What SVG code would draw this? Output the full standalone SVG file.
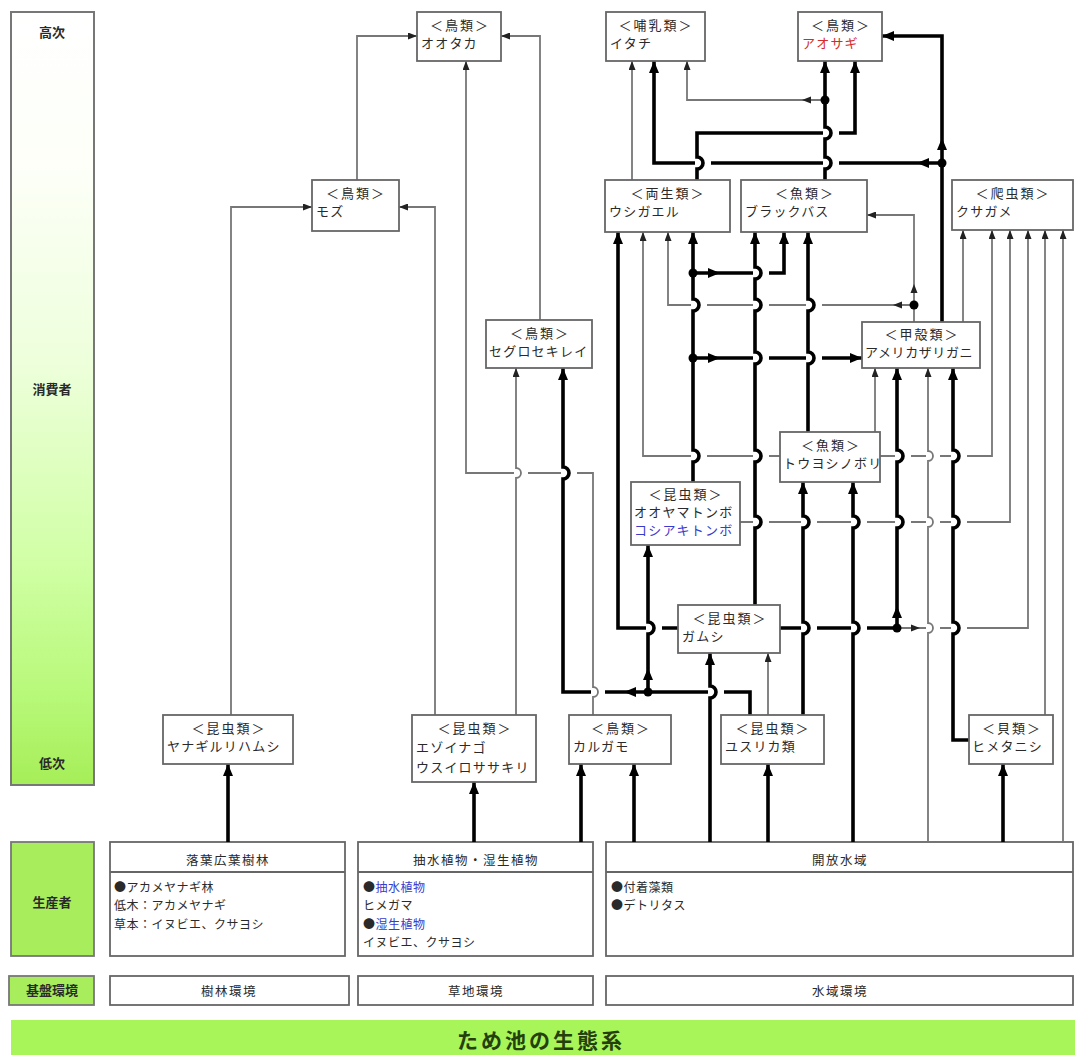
<svg xmlns="http://www.w3.org/2000/svg" xmlns:xlink="http://www.w3.org/1999/xlink" width="1075" height="1055" viewBox="0 0 1075 1055">
<style>
text{font-family:'Noto Sans CJK JP','Noto Sans',sans-serif;fill:#2a2a2a}
.box{fill:#fff;stroke:#666;stroke-width:1.8}
.gbox{fill:#a8ee5c;stroke:#777;stroke-width:1.8}
.cat{font-size:13px;text-anchor:middle;letter-spacing:2px}
.nm{font-size:13px;letter-spacing:1.2px}
.lv{font-size:13px;font-weight:bold;text-anchor:middle}
.ph{font-size:12.5px;text-anchor:middle;letter-spacing:1.5px}
.pb{font-size:12px;letter-spacing:0.5px}
.lnk{fill:#3a3acc}
.t{fill:none;stroke:#777;stroke-width:1.8;marker-end:url(#mt)}
.T{fill:none;stroke:#000;stroke-width:3.6;marker-end:url(#mT)}
.na{marker-end:none}
.dot{fill:#000}
.hT{fill:#000}
.ht{fill:#222}
</style>
<defs>
<linearGradient id="g" x1="0" y1="0" x2="0" y2="1">
<stop offset="0" stop-color="#ffffff"/>
<stop offset="0.2" stop-color="#fdfff8"/>
<stop offset="0.45" stop-color="#eeffdc"/>
<stop offset="0.7" stop-color="#d2ffa8"/>
<stop offset="0.88" stop-color="#b8f97a"/>
<stop offset="1" stop-color="#a6ee58"/>
</linearGradient>
<marker id="mT" viewBox="0 0 12 10" refX="12" refY="5" markerWidth="12" markerHeight="10" markerUnits="userSpaceOnUse" orient="auto"><path d="M0,0 L12,5 L0,10 Z" fill="#000"/></marker>
<marker id="mt" viewBox="0 0 9 7" refX="9" refY="3.5" markerWidth="9" markerHeight="7" markerUnits="userSpaceOnUse" orient="auto"><path d="M0,0 L9,3.5 L0,7 Z" fill="#222"/></marker>
<path id="aT" d="M0,0 L-5,12 L5,12 Z"/>
<path id="at" d="M0,0 L-3.5,9 L3.5,9 Z"/>
</defs>
<rect width="1075" height="1055" fill="#fff"/>

<g id="levels">
<rect x="11" y="12" width="83" height="773" fill="url(#g)" stroke="#777" stroke-width="2"/>
<text class="lv" x="52" y="37">高次</text>
<text class="lv" x="52" y="394">消費者</text>
<text class="lv" x="52" y="768">低次</text>
<rect class="gbox" x="11" y="842" width="83" height="114"/>
<text class="lv" x="52" y="907">生産者</text>
<rect class="gbox" x="9" y="976" width="85" height="29"/>
<text class="lv" x="52" y="995">基盤環境</text>
</g>

<g id="banner">
<rect x="11" y="1020" width="1064" height="35" fill="#a8f55a"/>
<text x="541" y="1048" font-size="21" font-weight="bold" text-anchor="middle" letter-spacing="3" style="fill:#24400c">ため池の生態系</text>
</g>

<g id="p-forest">
<rect class="box" x="110" y="842" width="235" height="114"/>
<line x1="110" y1="872" x2="345" y2="872" stroke="#666" stroke-width="1.8"/>
<text class="ph" x="228" y="865">落葉広葉樹林</text>
<text class="pb" x="114" y="892">●アカメヤナギ林</text>
<text class="pb" x="114" y="910">低木：アカメヤナギ</text>
<text class="pb" x="114" y="929">草本：イヌビエ、クサヨシ</text>
</g>
<g id="p-marsh">
<rect class="box" x="358" y="842" width="235" height="114"/>
<line x1="358" y1="872" x2="593" y2="872" stroke="#666" stroke-width="1.8"/>
<text class="ph" x="476" y="865">抽水植物・湿生植物</text>
<text class="pb" x="363" y="892">●<tspan class="lnk">抽水植物</tspan></text>
<text class="pb" x="363" y="910">ヒメガマ</text>
<text class="pb" x="363" y="929">●<tspan class="lnk">湿生植物</tspan></text>
<text class="pb" x="363" y="947">イヌビエ、クサヨシ</text>
</g>
<g id="p-water">
<rect class="box" x="606" y="842" width="467" height="114"/>
<line x1="606" y1="872" x2="1073" y2="872" stroke="#666" stroke-width="1.8"/>
<text class="ph" x="840" y="865">開放水域</text>
<text class="pb" x="611" y="892">●付着藻類</text>
<text class="pb" x="611" y="910">●デトリタス</text>
</g>

<g id="e-forest"><rect class="box" x="110" y="976" width="239" height="29"/><text class="ph" x="229" y="996">樹林環境</text></g>
<g id="e-grass"><rect class="box" x="358" y="976" width="235" height="29"/><text class="ph" x="476" y="996">草地環境</text></g>
<g id="e-water"><rect class="box" x="606" y="976" width="467" height="29"/><text class="ph" x="840" y="996">水域環境</text></g>

<g id="connectors">
<path class="t" d="M231,715 V207 H312"/>
<path class="T" d="M228,842 V764"/>
<path class="t" d="M357,180 V36 H417"/>
<path class="t" d="M540,320 V36 H501"/>
<path class="t" d="M593,715 V697 A5 5 0 0 0 593,687 V473 H577 M561,473 H528 M514,473 H466 V61"/>
<path class="t" d="M516,715 V478 A5 5 0 0 0 516,468 V368"/>
<path class="t" d="M435,715 V207 H399"/>
<path class="T" d="M474,842 V782"/>
<path class="T" d="M581,842 V764"/>
<path class="T" d="M634,842 V764"/>
<path class="T" d="M750,715 V692 H724 M708,692 H605 M591,692 H563 V479 A6 6 0 0 0 563,467 V368"/>
<path class="T" d="M648,692 V634 A6 6 0 0 0 648,622 V545"/>
<path class="T" d="M710,842 V698 A6 6 0 0 0 710,686 V653"/>
<path class="t" d="M768,715 V653"/>
<path class="T" d="M768,842 V764"/>
<path class="T" d="M678,628 H662 M646,628 H618 V232"/>
<path class="T" d="M755,605 V528 A6 6 0 0 0 755,516 V462 A6 6 0 0 0 755,450 V364 A6 6 0 0 0 755,352 V311 A6 6 0 0 0 755,299 V279 A6 6 0 0 0 755,267 V232"/>
<path class="T na" d="M780,628 H801 M817,628 H851 M867,628 H897"/>
<path class="T" d="M897,628 V528 A6 6 0 0 0 897,516 V462 A6 6 0 0 0 897,450 V368"/>
<path class="t" d="M897,628 H926 M940,628 H951 M967,628 H1028 V230"/>
<path class="T" d="M693,482 V462 A6 6 0 0 0 693,450 V311 A6 6 0 0 0 693,299 V232"/>
<path class="T" d="M693,358 H753 M769,358 H806 M822,358 H862"/>
<path class="T" d="M693,273 H753 M769,273 H784 V232"/>
<path class="T" d="M808,432 V364 A6 6 0 0 0 808,352 V311 A6 6 0 0 0 808,299 V232"/>
<path class="T" d="M803,715 V634 A6 6 0 0 0 803,622 V528 A6 6 0 0 0 803,516 V482"/>
<path class="T" d="M853,842 V634 A6 6 0 0 0 853,622 V528 A6 6 0 0 0 853,516 V482"/>
<path class="t" d="M875,432 V368"/>
<path class="t" d="M928,842 V633 A5 5 0 0 0 928,623 V527 A5 5 0 0 0 928,517 V461 A5 5 0 0 0 928,451 V368"/>
<path class="T" d="M969,740 H953 V634 A6 6 0 0 0 953,622 V528 A6 6 0 0 0 953,516 V462 A6 6 0 0 0 953,450 V368"/>
<path class="t" d="M780,456 H769 M753,456 H707 M691,456 H643 V232"/>
<path class="t" d="M880,456 H895 M911,456 H926 M940,456 H951 M967,456 H992 V230"/>
<path class="t" d="M740,522 H753 M769,522 H801 M817,522 H851 M867,522 H895 M911,522 H926 M940,522 H951 M967,522 H1010 V230"/>
<path class="t" d="M914,322 V305 H822 M806,305 H769 M753,305 H707 M691,305 H668 V232"/>
<path class="t" d="M914,305 V215 H867"/>
<path class="t" d="M963,322 V230"/>
<path class="t" d="M1045,715 V230"/>
<path class="t" d="M1063,842 V230"/>
<path class="T" d="M1003,842 V764"/>
<path class="T" d="M942,322 V36 H882"/>
<path class="T" d="M942,163 H839 M823,163 H711 M695,163 H654 V61"/>
<path class="T" d="M825,180 V169 A6 6 0 0 0 825,157 V139 A6 6 0 0 0 825,127 V61"/>
<path class="t" d="M825,100 H687 V61"/>
<path class="T" d="M697,180 V169 A6 6 0 0 0 697,157 V133 H823 M839,133 H855 V61"/>
<path class="t" d="M632,180 V61"/>
<circle class="dot" cx="648" cy="692" r="4.5"/>
<circle class="dot" cx="897" cy="628" r="4.5"/>
<circle class="dot" cx="693" cy="358" r="4.5"/>
<circle class="dot" cx="693" cy="273" r="4.5"/>
<circle class="dot" cx="914" cy="305" r="4.5"/>
<circle class="dot" cx="942" cy="163" r="4.5"/>
<circle class="dot" cx="825" cy="100" r="4.5"/>
<use href="#aT" class="hT" transform="translate(624,692) rotate(-90)"/>
<use href="#aT" class="hT" transform="translate(648,668)"/>
<use href="#aT" class="hT" transform="translate(720,273) rotate(90)"/>
<use href="#aT" class="hT" transform="translate(720,358) rotate(90)"/>
<use href="#aT" class="hT" transform="translate(897,606)"/>
<use href="#at" class="ht" transform="translate(920,628) rotate(90)"/>
<use href="#at" class="ht" transform="translate(893,305) rotate(-90)"/>
<use href="#at" class="ht" transform="translate(914,284)"/>
<use href="#aT" class="hT" transform="translate(917,163) rotate(-90)"/>
<use href="#aT" class="hT" transform="translate(942,138)"/>
<use href="#at" class="ht" transform="translate(802,100) rotate(-90)"/>
</g>

<g id="n-ootaka"><rect class="box" x="417" y="12" width="84" height="49"/><text class="cat" x="460" y="30">＜鳥類＞</text><text class="nm" x="421" y="48">オオタカ</text></g>
<g id="n-itachi"><rect class="box" x="606" y="12" width="99" height="49"/><text class="cat" x="656" y="30">＜哺乳類＞</text><text class="nm" x="610" y="48">イタチ</text></g>
<g id="n-aosagi"><rect class="box" x="798" y="12" width="84" height="49"/><text class="cat" x="841" y="30">＜鳥類＞</text><text class="nm" x="802" y="48" style="fill:#d42a2a">アオサギ</text></g>
<g id="n-mozu"><rect class="box" x="312" y="180" width="87" height="51"/><text class="cat" x="356" y="198">＜鳥類＞</text><text class="nm" x="316" y="216">モズ</text></g>
<g id="n-ushigaeru"><rect class="box" x="605" y="180" width="125" height="52"/><text class="cat" x="668" y="198">＜両生類＞</text><text class="nm" x="609" y="216">ウシガエル</text></g>
<g id="n-blackbass"><rect class="box" x="741" y="180" width="126" height="52"/><text class="cat" x="805" y="198">＜魚類＞</text><text class="nm" x="745" y="216">ブラックバス</text></g>
<g id="n-kusagame"><rect class="box" x="952" y="180" width="121" height="50"/><text class="cat" x="1013" y="198">＜爬虫類＞</text><text class="nm" x="956" y="216">クサガメ</text></g>
<g id="n-segurosekirei"><rect class="box" x="486" y="320" width="106" height="48"/><text class="cat" x="540" y="338">＜鳥類＞</text><text class="nm" x="489" y="356">セグロセキレイ</text></g>
<g id="n-zarigani"><rect class="box" x="862" y="322" width="118" height="46"/><text class="cat" x="922" y="339">＜甲殻類＞</text><text class="nm" x="865" y="357" style="letter-spacing:0.6px">アメリカザリガニ</text></g>
<g id="n-touyoshinobori"><rect class="box" x="780" y="432" width="100" height="50"/><text class="cat" x="831" y="450">＜魚類＞</text><text class="nm" x="783" y="468">トウヨシノボリ</text></g>
<g id="n-tombo"><rect class="box" x="631" y="482" width="109" height="63"/><text class="cat" x="686" y="499">＜昆虫類＞</text><text class="nm" x="634" y="517">オオヤマトンボ</text><text class="nm lnk" x="634" y="535">コシアキトンボ</text></g>
<g id="n-gamushi"><rect class="box" x="678" y="605" width="102" height="48"/><text class="cat" x="730" y="623">＜昆虫類＞</text><text class="nm" x="682" y="641">ガムシ</text></g>
<g id="n-yanagiruri"><rect class="box" x="163" y="715" width="130" height="49"/><text class="cat" x="229" y="733">＜昆虫類＞</text><text class="nm" x="167" y="751">ヤナギルリハムシ</text></g>
<g id="n-ezoinago"><rect class="box" x="412" y="715" width="124" height="67"/><text class="cat" x="475" y="733">＜昆虫類＞</text><text class="nm" x="416" y="752">エゾイナゴ</text><text class="nm" x="416" y="772">ウスイロササキリ</text></g>
<g id="n-karugamo"><rect class="box" x="569" y="715" width="102" height="49"/><text class="cat" x="621" y="733">＜鳥類＞</text><text class="nm" x="573" y="751">カルガモ</text></g>
<g id="n-yusurika"><rect class="box" x="721" y="715" width="103" height="49"/><text class="cat" x="773" y="733">＜昆虫類＞</text><text class="nm" x="725" y="751">ユスリカ類</text></g>
<g id="n-himetanishi"><rect class="box" x="969" y="715" width="84" height="49"/><text class="cat" x="1012" y="733">＜貝類＞</text><text class="nm" x="972" y="751">ヒメタニシ</text></g>
</svg>
